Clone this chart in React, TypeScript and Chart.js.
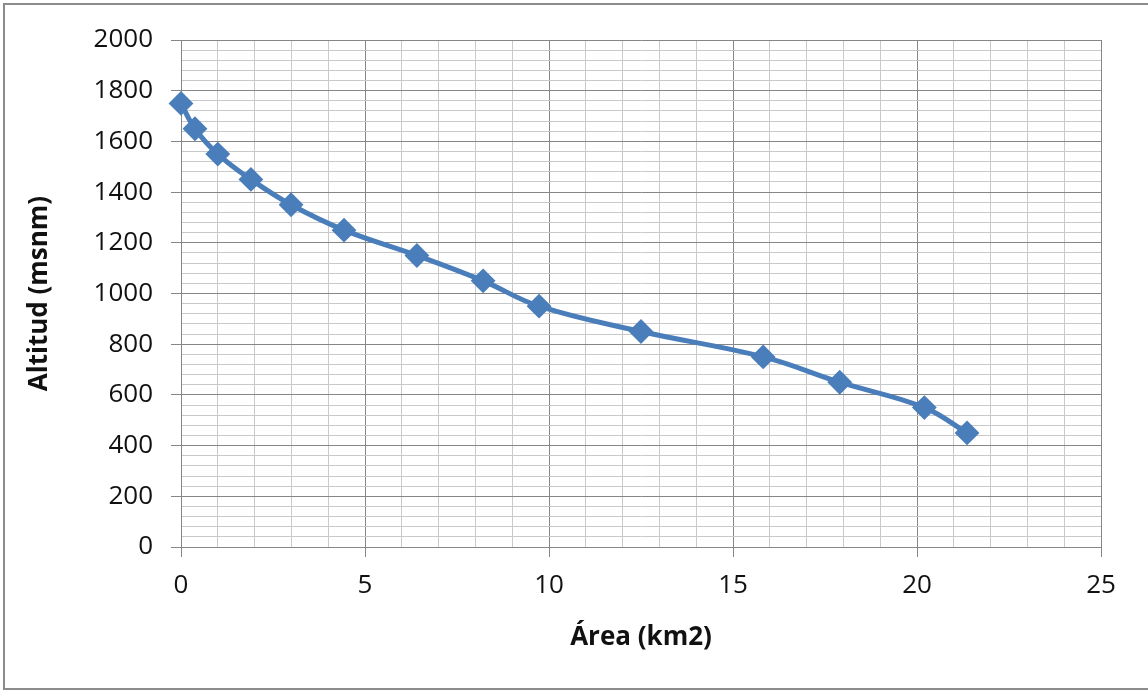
import React, { useEffect, useRef } from "react";
import { Chart, registerables } from "chart.js";

Chart.register(...registerables);

const areaKm2 = [0, 0.38, 1.0, 1.9, 2.99, 4.43, 6.41, 8.21, 9.73, 12.5, 15.82, 17.9, 20.2, 21.36];
const altitudMsnm = [1750, 1650, 1550, 1450, 1350, 1250, 1150, 1050, 950, 850, 750, 650, 550, 450];
const xTitle = "Área (km2)";
const yTitle = "Altitud (msnm)";

const FONT = "'Open Sans', 'Liberation Sans', sans-serif";
const MAJOR = "#868686";
const MINOR = "#c9c9c9";
const BLUE = "#4a7ebb";

export default function App() {
  const ref = useRef<HTMLCanvasElement | null>(null);
  useEffect(() => {
    document.body.style.margin = "0";
    const ctx = ref.current!.getContext("2d")!;
    const chart = new Chart(ctx, {
      type: "scatter",
      data: {
        datasets: [
          {
            data: areaKm2.map((x, i) => ({ x, y: altitudMsnm[i] })),
            showLine: true,
            clip: false,
            borderColor: BLUE,
            backgroundColor: BLUE,
            borderWidth: 5,
            tension: 0.4,
            pointStyle: "rectRot",
            pointRadius: 11,
            pointBorderWidth: 2,
            pointBorderColor: BLUE,
            pointBackgroundColor: BLUE,
          },
        ],
      },
      options: {
        animation: false,
        responsive: false,
        events: [],
        layout: { padding: { top: 40, right: 47, left: 0, bottom: 0 } },
        plugins: { legend: { display: false }, tooltip: { enabled: false } },
        scales: {
          x: {
            type: "linear",
            min: 0,
            max: 25,
            afterFit: (s: any) => {
              s.height = 143;
            },
            border: { color: MAJOR, width: 1 },
            grid: {
              color: (c: any) => (c.tick && c.tick.value % 5 === 0 ? MAJOR : MINOR),
              tickColor: (c: any) => (c.tick && c.tick.value % 5 === 0 ? MAJOR : "rgba(0,0,0,0)"),
              tickLength: 10,
              lineWidth: 1,
            },
            ticks: {
              stepSize: 1,
              autoSkip: false,
              maxRotation: 0,
              padding: 13,
              color: "#111",
              font: { family: FONT, size: 26 },
              callback: (v: any) => (Number(v) % 5 === 0 ? String(v) : ""),
            },
            title: {
              display: true,
              text: xTitle,
              color: "#111",
              font: { family: FONT, size: 26, weight: "bold" },
              padding: { top: 0, bottom: 37 },
            },
          },
          y: {
            type: "linear",
            min: 0,
            max: 2000,
            afterFit: (s: any) => {
              s.width = 181;
            },
            border: { color: MAJOR, width: 1 },
            grid: {
              color: (c: any) => (c.tick && c.tick.value % 200 === 0 ? MAJOR : MINOR),
              tickColor: (c: any) => (c.tick && c.tick.value % 200 === 0 ? MAJOR : "rgba(0,0,0,0)"),
              tickLength: 10,
              lineWidth: 1,
            },
            ticks: {
              stepSize: 40,
              autoSkip: false,
              padding: 18,
              color: "#111",
              font: { family: FONT, size: 26 },
              callback: (v: any) => (Number(v) % 200 === 0 ? String(v) : ""),
            },
            title: {
              display: true,
              text: yTitle,
              color: "#111",
              font: { family: FONT, size: 26, weight: "bold" },
              padding: { top: 24, bottom: 0 },
            },
          },
        },
      },
    });
    return () => chart.destroy();
  }, []);
  return (
    <div style={{ position: "fixed", left: 0, top: 0, width: 1148, height: 690, background: "#fff", overflow: "hidden" }}>
      <canvas ref={ref} width={1148} height={690} style={{ position: "absolute", left: 0, top: 0 }} />
      <div
        style={{
          position: "absolute",
          left: 3,
          top: 3,
          width: 1200,
          height: 687,
          boxSizing: "border-box",
          border: "2px solid #8c8c8c",
          pointerEvents: "none",
        }}
      />
    </div>
  );
}
